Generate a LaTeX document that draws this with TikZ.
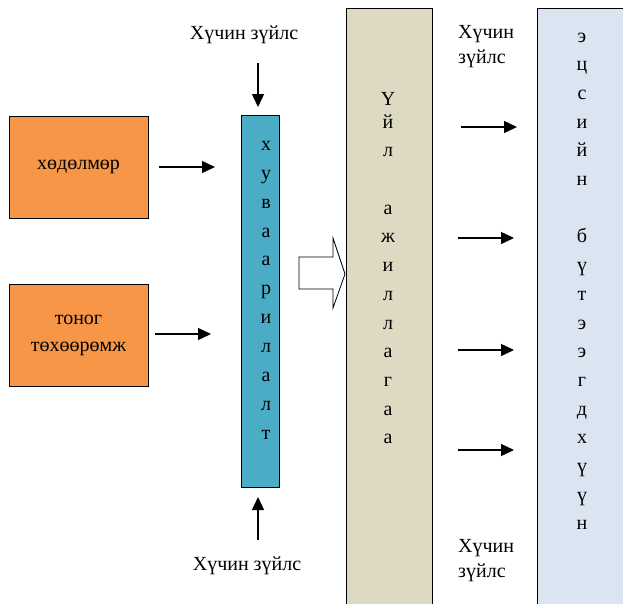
\documentclass[tikz,border=0pt]{standalone}
\usepackage{fontspec}
\setmainfont{Liberation Serif}
\usetikzlibrary{arrows.meta,positioning}
\definecolor{orangebox}{HTML}{F79646}
\definecolor{bluebar}{HTML}{4BACC6}
\definecolor{beigebar}{HTML}{DDD9C3}
\definecolor{palebar}{HTML}{DBE5F1}
\tikzset{
  factor/.style={draw, thick, fill=orangebox, minimum width=139pt, minimum height=102pt, align=center, font=\fontsize{20}{27}\selectfont},
  bar/.style={draw, thick, anchor=north west, inner sep=0pt},
  letters/.style={align=center, anchor=north, inner sep=0pt},
  forces/.style={align=left, inner sep=0pt, font=\fontsize{20}{25.5}\selectfont},
  push/.style={-{Triangle[length=13pt,width=12pt]}, line width=1.4pt}
}

\begin{document}
\begin{tikzpicture}[x=1pt, y=-1pt, font=\fontsize{20}{24}\selectfont]
  \useasboundingbox (0,0) rectangle (623,603);

  % orange inputs
  \node[factor] (labour) at (78.5,167) {хөдөлмөр};
  \node[factor] (tools) at (78.5,335) {тоног\\төхөөрөмж};

  % distribution bar
  \node[bar, fill=bluebar, minimum width=38pt, minimum height=372pt] (split) at (241,115) {};
  \node[letters, font=\fontsize{20}{28.9}\selectfont] (splittext) at (266,141) {х\\у\\в\\а\\а\\р\\и\\л\\а\\л\\т};

  % activity bar
  \node[bar, fill=beigebar, minimum width=86pt, minimum height=600pt] (act) at (346,8) {};
  \node[letters, font=\fontsize{20}{28.7}\selectfont] (acttext) at (388,91.8) {Ү\\[-5.7pt]й\\л\\[28.7pt]а\\ж\\и\\л\\л\\а\\г\\а\\а};

  % result bar
  \node[bar, fill=palebar, minimum width=90pt, minimum height=600pt] (result) at (537,8) {};
  \node[letters, font=\fontsize{20}{28.7}\selectfont] (resulttext) at (582,32.4) {э\\ц\\с\\и\\й\\н\\[28.7pt]б\\ү\\т\\э\\э\\г\\д\\х\\ү\\ү\\н};

  % forces labels
  \node[anchor=base, inner sep=0pt] (topforce) at (244,39) {Хүчин зүйлс};
  \node[anchor=base, inner sep=0pt] (botforce) at (247,570) {Хүчин зүйлс};
  \node[forces, anchor=north west] (rtforce) at (458,24.8) {Хүчин\\зүйлс};
  \node[forces, anchor=north west] (rbforce) at (458,539) {Хүчин\\зүйлс};

  % arrows into the bar
  \coordinate (labourtail) at (159,167);
  \coordinate (labourtip) at (215,167);
  \coordinate (toolstail) at (155,334);
  \coordinate (toolstip) at (211,334);
  \draw[push] (labourtail) -- (labourtip);
  \draw[push] (toolstail) -- (toolstip);

  \coordinate (toptail) at (258,63);
  \coordinate (toptip) at (258,107);
  \coordinate (bottail) at (258,540);
  \coordinate (bottip) at (258,497);
  \draw[push] (toptail) -- (toptip);
  \draw[push] (bottail) -- (bottip);

  % hollow arrow
  \draw[thick, fill=white] (299,257) -- (333,257) -- (333,238) -- (345,274)
    -- (333,308) -- (333,289) -- (299,289) -- cycle;

  % arrows to result
  \foreach \y/\tl in {127/461, 238/458, 350/458, 450/458} {
    \coordinate (outtail\y) at (\tl,\y);
    \coordinate (outtip\y) at (\tl+56,\y);
    \draw[push] (outtail\y) -- (outtip\y);
  }
\end{tikzpicture}
\end{document}
